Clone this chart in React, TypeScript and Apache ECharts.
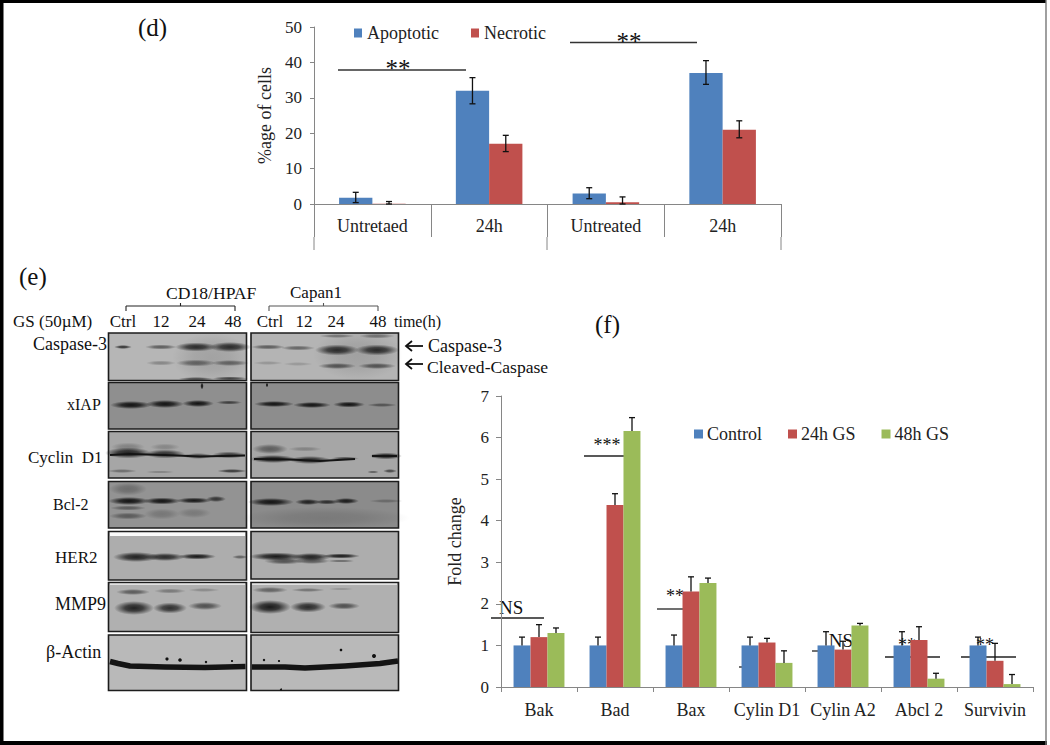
import React, { useEffect, useRef } from "react";
import * as echarts from "echarts";

// ---------- Panel (d) ----------
const dCategories = ["Untretaed", "24h", "Untreated", "24h "];
const apoptotic = [1.8, 32, 3, 37];
const necrotic = [0.1, 17, 0.5, 21];
const apoptoticLow = [0.4, 28.3, 1.5, 33.8];
const apoptoticHigh = [3.3, 35.7, 4.6, 40.5];
const necroticLow = [0, 14.8, 0, 18.7];
const necroticHigh = [0.7, 19.4, 2, 23.5];
const dTicks = [0, 10, 20, 30, 40, 50];

// ---------- Panel (f) ----------
const fCategories = ["Bak", "Bad", "Bax", "Cylin D1", "Cylin A2", "Abcl 2", "Survivin"];
const control = [1, 1, 1, 1, 1, 1, 1];
const gs24 = [1.2, 4.38, 2.3, 1.07, 0.9, 1.13, 0.63];
const gs48 = [1.3, 6.16, 2.5, 0.58, 1.48, 0.2, 0.07];
const controlHigh = [1.2, 1.2, 1.25, 1.2, 1.33, 1.33, 1.2];
const gs24High = [1.5, 4.65, 2.65, 1.17, 1.1, 1.45, 1.05];
const gs48High = [1.42, 6.48, 2.62, 0.87, 1.53, 0.33, 0.3];

const SERIF = '"Liberation Serif", serif';
const BLUE = "#4F81BD";
const RED = "#C0504D";
const GREEN = "#9BBB59";
const AXIS = "#868686";

function errorSeries(
  xAxisIndex: number,
  values: number[],
  low: number[],
  high: number[],
  slot: number,
  slots: number,
  widthFrac: number,
  lowerCap: boolean
) {
  return {
    type: "custom",
    xAxisIndex,
    yAxisIndex: xAxisIndex,
    silent: true,
    z: 5,
    data: values.map((_, i) => [i, low[i], high[i]]),
    encode: { x: 0, y: [1, 2] },
    renderItem: (_: any, api: any) => {
      const band = api.size([1, 0])[0];
      const barW = band * widthFrac;
      const base = api.coord([api.value(0), 0]);
      const cx = base[0] + (slot - (slots - 1) / 2) * barW;
      const yLow = api.coord([api.value(0), api.value(1)])[1];
      const yHigh = api.coord([api.value(0), api.value(2)])[1];
      const style = { stroke: "#111", lineWidth: 1.3, fill: "none" };
      const children: any[] = [
        { type: "line", shape: { x1: cx, y1: yLow, x2: cx, y2: yHigh }, style },
        { type: "line", shape: { x1: cx - 3, y1: yHigh, x2: cx + 3, y2: yHigh }, style },
      ];
      if (lowerCap) {
        children.push({ type: "line", shape: { x1: cx - 3, y1: yLow, x2: cx + 3, y2: yLow }, style });
      }
      return { type: "group", children };
    },
  };
}

const txt = (
  text: string,
  x: number,
  y: number,
  size = 16,
  align: string = "left",
  fill = "#111"
) => ({
  type: "text",
  x,
  y,
  silent: true,
  style: { text, fill, font: `${size}px ${SERIF}`, textAlign: align, textVerticalAlign: "middle" },
});

const seg = (x1: number, y1: number, x2: number, y2: number, stroke = "#222", lineWidth = 1.4) => ({
  type: "line",
  silent: true,
  shape: { x1, y1, x2, y2 },
  style: { stroke, lineWidth },
});

const band = (cx: number, cy: number, w: number, h: number, a: number) => ({
  type: "ellipse",
  silent: true,
  shape: { cx, cy, rx: w / 2, ry: h / 2 },
  style: {
    fill: {
      type: "radial",
      x: 0.5,
      y: 0.5,
      r: 0.5,
      colorStops: [
        { offset: 0, color: `rgba(18,18,18,${a})` },
        { offset: 0.45, color: `rgba(18,18,18,${a * 0.8})` },
        { offset: 1, color: "rgba(18,18,18,0)" },
      ],
    },
  },
});

const panel = (x: number, y: number, w: number, h: number, fill: string) => ({
  type: "rect",
  silent: true,
  shape: { x, y, width: w, height: h },
  style: { fill, stroke: "#1c1c1c", lineWidth: 1.6 },
});

const speck = (cx: number, cy: number, r: number) => ({
  type: "circle",
  silent: true,
  shape: { cx, cy, r },
  style: { fill: "#111" },
});

const smear = (pts: number[][], lineWidth: number, stroke = "#141414") => ({
  type: "polyline",
  silent: true,
  shape: { points: pts },
  style: { stroke, lineWidth, lineCap: "butt", lineJoin: "round", fill: "none" },
});

function blot(): any[] {
  const L = 108.5;
  const LW = 138;
  const R = 251;
  const RW = 147.5;
  const out: any[] = [
    panel(L, 333, LW, 47.5, "#b6b6b6"),
    panel(R, 333, RW, 47.5, "#b4b4b4"),
    panel(L, 382.5, LW, 46.5, "#8f8f8f"),
    panel(R, 382.5, RW, 46.5, "#8d8d8d"),
    panel(L, 431.5, LW, 46.5, "#a6a6a6"),
    panel(R, 431.5, RW, 46.5, "#a6a6a6"),
    panel(L, 481.5, LW, 46.5, "#939393"),
    panel(R, 481.5, RW, 46.5, "#8b8b8b"),
    panel(L, 531.5, LW, 48.5, "#adadad"),
    panel(R, 531.5, RW, 47.5, "#adadad"),
    panel(L, 582.5, LW, 49, "#b0b0b0"),
    panel(R, 582.5, RW, 50, "#b0b0b0"),
    panel(L, 635, LW, 55.5, "#b9b9b9"),
    panel(R, 635, RW, 55.5, "#b9b9b9"),
    { type: "rect", silent: true, shape: { x: 110, y: 532.5, width: 135, height: 3.5 }, style: { fill: "#fafafa" } },
    { type: "rect", silent: true, shape: { x: 110, y: 583.5, width: 135, height: 1.2 }, style: { fill: "#f0f0f0" } },
    { type: "rect", silent: true, shape: { x: 252, y: 583.5, width: 145, height: 1.2 }, style: { fill: "#f0f0f0" } },
  ];
  const bands: number[][] = [
    // lane smears
    [212, 358, 80, 50, 0.12], [358, 355, 90, 50, 0.12], [325, 518, 170, 22, 0.14],
    // Caspase-3, left
    [123, 347, 18, 4, 0.8], [161, 347, 32, 5, 0.55], [196, 347, 42, 9, 0.85], [230, 347, 42, 10, 0.85],
    [161, 363, 30, 5, 0.3], [196, 363, 40, 7, 0.5], [230, 363, 38, 6, 0.5],
    [196, 379, 36, 4, 0.65], [230, 378.5, 36, 4, 0.7],
    // Caspase-3, right
    [268, 347, 34, 5, 0.55], [298, 348, 34, 5, 0.5], [337, 350, 44, 11, 0.85], [377, 350, 44, 11, 0.85],
    [268, 363, 30, 4, 0.2], [298, 364, 30, 4, 0.18], [337, 366, 38, 6, 0.6], [377, 366, 38, 6, 0.6],
    [337, 336, 36, 4, 0.4], [377, 336, 36, 5, 0.42],
    // xIAP
    [131, 405, 42, 8, 1], [165, 404, 38, 8, 1], [198, 403.5, 32, 7, 1], [229, 402.5, 26, 4, 0.65],
    [274, 404, 40, 6, 1], [312, 405, 38, 6, 1], [349, 404.5, 32, 6, 1], [382, 405, 30, 4, 0.5],
    [202, 386, 3.5, 7, 1], [267, 385, 2.5, 5, 1],
    // Cyclin D1
    [128, 453, 46, 11, 0.9], [165, 454, 40, 9, 0.8], [198, 456, 30, 6, 0.6], [229, 455, 34, 7, 0.7],
    [128, 447, 34, 9, 0.25], [165, 447, 30, 7, 0.22], [122, 471, 30, 4, 0.4], [160, 472, 30, 3, 0.25],
    [232, 471, 30, 4, 0.75],
    [273, 459, 46, 8, 0.9], [310, 460, 42, 8, 0.8], [345, 458.5, 28, 4, 0.6], [386, 456, 32, 7, 0.8],
    [270, 449, 36, 10, 0.5], [305, 449, 34, 5, 0.25], [373, 472, 12, 3, 0.5], [390, 471, 14, 4, 0.65],
    // Bcl-2
    [129, 501, 42, 8, 1], [162, 501, 38, 7, 1], [194, 500.5, 36, 6, 0.95], [216, 499, 20, 6, 0.75],
    [128, 489, 38, 13, 0.3], [128, 508, 36, 5, 0.45], [128, 516, 38, 7, 0.45], [162, 514, 36, 11, 0.22], [194, 513, 34, 10, 0.2],
    [271, 502, 46, 8, 1], [308, 502, 26, 6, 0.9], [327, 502, 24, 5, 0.8], [346, 501, 26, 6, 0.95], [386, 501, 34, 4, 0.3],
    // HER2
    [136, 557, 46, 10, 0.9], [165, 557, 40, 8, 0.85], [197, 556.5, 38, 6, 0.95], [240, 557, 16, 4, 0.5],
    [276, 556.5, 54, 8, 0.95], [311, 557, 40, 8, 0.9], [341, 556, 38, 5, 0.95],
    [284, 561, 40, 7, 0.6], [312, 561, 36, 6, 0.55], [341, 561, 28, 3, 0.45],
    // MMP9
    [133, 592, 34, 6, 0.55], [170, 591, 32, 5, 0.36], [204, 590, 32, 4, 0.25],
    [134, 608, 40, 14, 0.9], [170, 608, 34, 11, 0.82], [205, 606, 34, 8, 0.62],
    [270, 590, 36, 6, 0.5], [308, 590, 34, 4, 0.4], [341, 589, 26, 3, 0.18],
    [270, 607, 42, 14, 0.95], [308, 607, 36, 11, 0.85], [344, 606, 32, 7, 0.62],
  ];
  bands.forEach(([cx, cy, w, h, a]) => out.push(band(cx, cy, w, h, a)));
  // continuous dark bands
  out.push(smear([[110, 455], [130, 454], [165, 455], [200, 456.5], [245, 455.5]], 2.2));
  out.push(smear([[254, 459], [290, 459.5], [320, 461], [355, 459]], 2.2));
  out.push(smear([[372, 456], [397, 456]], 2.2));
  out.push(smear([[110, 661.5], [118, 663.5], [130, 666], [165, 667], [205, 667.5], [245.5, 666.5]], 5.5));
  out.push(smear([[252, 667], [285, 667], [305, 668], [345, 666], [380, 663.5], [398, 661]], 5.5));
  [[167, 659, 1.6], [180, 660, 1.8], [206, 662, 1.2], [232, 661, 1.1], [264, 660, 1.2], [279, 661, 1.1], [341, 650, 1.3], [374, 656, 2], [281, 689.5, 1]].forEach(
    ([x, y, r]) => out.push(speck(x, y, r))
  );
  return out;
}

function bracket(x1: number, x2: number, y: number, color: string) {
  const mid = (x1 + x2) / 2;
  return [seg(x1, y, x2, y, color, 1.1), seg(x1, y, x1, y + 5, color, 1.1), seg(x2, y, x2, y + 5, color, 1.1), seg(mid, y, mid, y - 3, color, 1.1)];
}

function arrow(x1: number, x2: number, y: number) {
  return [
    seg(x1, y, x2, y, "#111", 1.8),
    { type: "polyline", silent: true, shape: { points: [[x1 + 6, y - 5], [x1, y], [x1 + 6, y + 5]] }, style: { stroke: "#111", lineWidth: 1.8, fill: "none" } },
  ];
}

function decorations(): any[] {
  return [
    // page frame
    { type: "rect", silent: true, shape: { x: 0, y: 0, width: 1046, height: 3 }, style: { fill: "#000" } },
    { type: "rect", silent: true, shape: { x: 0, y: 0, width: 3.5, height: 745 }, style: { fill: "#000" } },
    { type: "rect", silent: true, shape: { x: 0, y: 741, width: 1047, height: 4 }, style: { fill: "#000" } },
    seg(1046, 0, 1046, 745, "#777", 1.4),
    // panel letters
    txt("(d)", 138, 27, 25),
    txt("(e)", 19, 276, 25),
    txt("(f)", 595, 324, 25),
    // panel (d) annotations
    seg(338, 70, 466, 70, "#333", 1.5),
    txt("**", 398, 68, 25, "center"),
    seg(570, 42.5, 697, 42.5, "#333", 1.3),
    txt("**", 629, 41, 25, "center"),
    seg(314, 237, 314, 250, AXIS, 1),
    seg(547, 237, 547, 250, AXIS, 1),
    seg(781, 237, 781, 250, AXIS, 1),
    // blot
    ...blot(),
    txt("CD18/HPAF", 166, 293, 17.6),
    txt("Capan1", 290, 292, 17),
    ...bracket(126, 235, 306, "#222"),
    ...bracket(269, 378, 306, "#555"),
    txt("GS (50µM)", 13, 321, 17),
    txt("Ctrl", 123, 321, 17, "center"),
    txt("12", 161, 321, 17, "center"),
    txt("24", 197, 321, 17, "center"),
    txt("48", 233, 321, 17, "center"),
    txt("Ctrl", 270, 321, 17, "center"),
    txt("12", 304, 321, 17, "center"),
    txt("24", 336, 321, 17, "center"),
    txt("48", 378, 321, 17, "center"),
    txt("time(h)", 394, 321, 16),
    txt("Caspase-3", 107, 344, 18, "right"),
    txt("xIAP", 67, 404, 16),
    txt("Cyclin  D1", 28, 457, 17),
    txt("Bcl-2", 53, 504, 16),
    txt("HER2", 55, 557, 17),
    txt("MMP9", 55, 604, 18),
    txt("β-Actin", 46, 652, 18),
    ...arrow(406, 423, 346),
    ...arrow(406, 423, 364),
    txt("Caspase-3", 428, 346, 18),
    txt("Cleaved-Caspase", 427, 367, 17.6),
    // panel (f) annotations (behind the bars)
    seg(491, 618, 544, 618, "#222", 1.3),
    txt("NS", 499, 607, 19),
    seg(584, 456, 626, 456, "#222", 1.3),
    txt("***", 607, 445, 18, "center"),
    seg(657, 609, 685, 609, "#222", 1.3),
    txt("**", 675, 596, 18, "center"),
    seg(739, 667, 748, 667, "#222", 1.3),
    seg(812, 651, 824, 651, "#222", 1.3),
    txt("NS", 841, 640, 19, "center"),
    seg(885, 657, 940, 657, "#222", 1.3),
    txt("**", 907, 645, 18, "center"),
    seg(961, 657, 1016, 657, "#222", 1.3),
    txt("**", 985, 645, 18, "center"),
  ];
}

function buildOption(): any {
  const tickLabel = { color: "#222", fontFamily: SERIF, fontSize: 18 };
  const digitLabel = { color: "#222", fontFamily: SERIF, fontSize: 17 };
  const dBarFrac = 33.3 / 116.75;
  const fBarFrac = 17 / 76;
  const bar = (name: string, data: number[], color: string, idx: number, gapPct: string) => ({
    name,
    type: "bar",
    xAxisIndex: idx,
    yAxisIndex: idx,
    data,
    barGap: "0%",
    barCategoryGap: gapPct,
    itemStyle: { color },
    z: 2,
  });
  return {
    animation: false,
    backgroundColor: "#ffffff",
    grid: [
      { left: 314, top: 27, width: 467, height: 177, containLabel: false },
      { left: 501, top: 396, width: 532, height: 291, containLabel: false },
    ],
    xAxis: [
      {
        type: "category",
        gridIndex: 0,
        data: dCategories,
        axisLine: { lineStyle: { color: AXIS } },
        axisTick: { show: true, length: 33, lineStyle: { color: AXIS } },
        axisLabel: { ...tickLabel, margin: 13, formatter: (v: string) => v.trim() },
      },
      {
        type: "category",
        gridIndex: 1,
        data: fCategories,
        axisLine: { lineStyle: { color: AXIS } },
        axisTick: { show: true, length: 5, lineStyle: { color: AXIS } },
        axisLabel: { ...tickLabel, margin: 14, interval: 0 },
      },
    ],
    yAxis: [
      {
        type: "value",
        gridIndex: 0,
        min: dTicks[0],
        max: dTicks[dTicks.length - 1],
        interval: 10,
        name: "%age of cells",
        nameLocation: "middle",
        nameGap: 40,
        nameTextStyle: { ...tickLabel },
        splitLine: { show: false },
        axisLine: { show: true, lineStyle: { color: AXIS } },
        axisTick: { show: true, length: 4, lineStyle: { color: AXIS } },
        axisLabel: { ...digitLabel, margin: 12 },
      },
      {
        type: "value",
        gridIndex: 1,
        min: 0,
        max: 7,
        interval: 1,
        name: "Fold change",
        nameLocation: "middle",
        nameGap: 37,
        nameTextStyle: { ...tickLabel },
        splitLine: { show: false },
        axisLine: { show: true, lineStyle: { color: AXIS } },
        axisTick: { show: true, length: 5, lineStyle: { color: AXIS } },
        axisLabel: { ...digitLabel, margin: 12 },
      },
    ],
    legend: [
      {
        data: ["Apoptotic", "Necrotic"],
        left: 354,
        top: 24,
        icon: "rect",
        itemWidth: 8,
        itemHeight: 9,
        itemGap: 32,
        padding: 0,
        selectedMode: false,
        textStyle: { ...tickLabel, padding: [0, 0, 0, 0] },
      },
      {
        data: ["Control", "24h GS", "48h GS"],
        left: 694,
        top: 425,
        icon: "rect",
        itemWidth: 9,
        itemHeight: 9,
        itemGap: 26,
        padding: 0,
        selectedMode: false,
        textStyle: { ...tickLabel, padding: [0, 0, 0, -1] },
      },
    ],
    graphic: { elements: decorations() },
    series: [
      bar("Apoptotic", apoptotic, BLUE, 0, "43%"),
      bar("Necrotic", necrotic, RED, 0, "43%"),
      errorSeries(0, apoptotic, apoptoticLow, apoptoticHigh, 0, 2, dBarFrac, true),
      errorSeries(0, necrotic, necroticLow, necroticHigh, 1, 2, dBarFrac, true),
      bar("Control", control, BLUE, 1, "33%"),
      bar("24h GS", gs24, RED, 1, "33%"),
      bar("48h GS", gs48, GREEN, 1, "33%"),
      errorSeries(1, control, control, controlHigh, 0, 3, fBarFrac, false),
      errorSeries(1, gs24, gs24, gs24High, 1, 3, fBarFrac, false),
      errorSeries(1, gs48, gs48, gs48High, 2, 3, fBarFrac, false),
    ],
  };
}

export default function App() {
  const ref = useRef<HTMLDivElement>(null);
  useEffect(() => {
    document.body.style.margin = "0";
    const chart = echarts.init(ref.current!, undefined, { renderer: "svg" });
    chart.setOption(buildOption());
    return () => chart.dispose();
  }, []);
  return <div ref={ref} style={{ width: 1050, height: 745 }} />;
}
